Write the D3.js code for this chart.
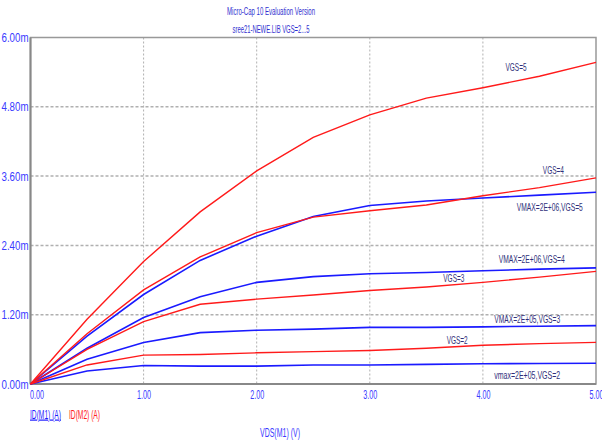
<!DOCTYPE html>
<html>
<head>
<meta charset="utf-8">
<script src="https://cdn.jsdelivr.net/npm/d3@7"></script>
<style>
  body { margin: 0; background: #fff; }
  text { font-family: "Liberation Sans Narrow", "Liberation Sans", Arial, sans-serif; }
</style>
</head>
<body>
<div id="chart"></div>
<script>
// sweep of VDS (V)
var vds = [0, 0.5, 1, 1.5, 2, 2.5, 3, 3.5, 4, 4.5, 5];

// ID(M2) red curves, mA
var red_vgs5 = [0, 1.12, 2.12, 2.98, 3.69, 4.27, 4.66, 4.95, 5.13, 5.33, 5.57];
var red_vgs4 = [0, 0.87, 1.63, 2.20, 2.62, 2.89, 3.00, 3.10, 3.26, 3.40, 3.57];
var red_vgs3 = [0, 0.60, 1.08, 1.38, 1.47, 1.54, 1.62, 1.68, 1.76, 1.85, 1.95];
var red_vgs2 = [0, 0.33, 0.50, 0.51, 0.54, 0.56, 0.58, 0.62, 0.67, 0.70, 0.72];

// ID(M1) blue curves, mA
var blue_vgs5 = [0, 0.83, 1.55, 2.14, 2.56, 2.90, 3.09, 3.17, 3.22, 3.27, 3.32];
var blue_vgs4 = [0, 0.62, 1.15, 1.51, 1.76, 1.86, 1.91, 1.93, 1.96, 1.99, 2.01];
var blue_vgs3 = [0, 0.43, 0.72, 0.89, 0.93, 0.95, 0.98, 0.98, 0.99, 1.00, 1.01];
var blue_vgs2 = [0, 0.225, 0.32, 0.31, 0.31, 0.33, 0.33, 0.34, 0.35, 0.355, 0.36];

var xTicks = [0, 1, 2, 3, 4, 5];
var yTicks = [0, 1.2, 2.4, 3.6, 4.8, 6.0];

var curveLabels = [
  {text: "VGS=5", x: 4.20, y: 5.42},
  {text: "VGS=4", x: 4.53, y: 3.63},
  {text: "VMAX=2E+06,VGS=5", x: 4.30, y: 3.00},
  {text: "VMAX=2E+06,VGS=4", x: 4.14, y: 2.10},
  {text: "VGS=3", x: 3.65, y: 1.76},
  {text: "VMAX=2E+05,VGS=3", x: 4.10, y: 1.06},
  {text: "VGS=2", x: 3.68, y: 0.70},
  {text: "vmax=2E+05,VGS=2", x: 4.10, y: 0.087}
];

var width = 602, height = 445;
var red = "#ff1a1a", blue = "#1a1aff", tickBlue = "#3a3aff", navy = "#30307a";

var svg = d3.select("#chart").append("svg")
    .attr("width", width)
    .attr("height", height);

var x = d3.scaleLinear().domain([0, 5]).range([30.5, 596]);
var y = d3.scaleLinear().domain([0, 6]).range([384, 37.5]);

// titles
svg.append("text").attr("x", 271).attr("y", 15).attr("text-anchor", "middle")
   .attr("font-size", 11.5).attr("fill", "#3030d0")
   .attr("textLength", 88).attr("lengthAdjust", "spacingAndGlyphs")
   .text("Micro-Cap 10 Evaluation Version");
svg.append("text").attr("x", 271).attr("y", 33).attr("text-anchor", "middle")
   .attr("font-size", 11.5).attr("fill", "#3030d0")
   .attr("textLength", 77).attr("lengthAdjust", "spacingAndGlyphs")
   .text("sree21-NEWE.LIB VGS=2...5");

// grid
svg.append("g").selectAll("line").data(xTicks.slice(1, 5)).enter().append("line")
   .attr("x1", function(d) {return x(d);}).attr("x2", function(d) {return x(d);})
   .attr("y1", y(6)).attr("y2", y(0))
   .attr("stroke", "#b0b0b0").attr("stroke-width", 1).attr("stroke-dasharray", "2,2");
svg.append("g").selectAll("line").data(yTicks.slice(1, 5)).enter().append("line")
   .attr("x1", x(0)).attr("x2", x(5))
   .attr("y1", function(d) {return y(d);}).attr("y2", function(d) {return y(d);})
   .attr("stroke", "#b0b0b0").attr("stroke-width", 1.5).attr("stroke-dasharray", "3,2");

// frame
svg.append("rect").attr("x", x(0)).attr("y", y(6))
   .attr("width", x(5) - x(0)).attr("height", y(0) - y(6))
   .attr("fill", "none").attr("stroke", "#999").attr("stroke-width", 1.5);
svg.append("line").attr("x1", x(0)).attr("x2", x(0)).attr("y1", y(6)).attr("y2", y(0))
   .attr("stroke", "#888").attr("stroke-width", 2);
svg.append("line").attr("x1", x(0)).attr("x2", x(5)).attr("y1", y(0)).attr("y2", y(0))
   .attr("stroke", "#888").attr("stroke-width", 2);

// axes (labels only)
var yAxis = d3.axisLeft(y).tickValues(yTicks).tickSize(0).tickPadding(2)
   .tickFormat(function(d) {return d3.format(".2f")(d) + "m";});
var gy = svg.append("g").attr("transform", "translate(" + x(0) + ",0)").call(yAxis);
gy.select(".domain").remove();
gy.selectAll("text").attr("fill", tickBlue).attr("font-size", 12.5)
   .attr("font-family", "'Liberation Sans Narrow', 'Liberation Sans', Arial, sans-serif")
   .attr("textLength", 27).attr("lengthAdjust", "spacingAndGlyphs");

var xAxis = d3.axisBottom(x).tickValues(xTicks).tickSize(0).tickPadding(6)
   .tickFormat(d3.format(".2f"));
var gx = svg.append("g").attr("transform", "translate(0," + y(0) + ")").call(xAxis);
gx.select(".domain").remove();
gx.selectAll("text").attr("fill", tickBlue).attr("font-size", 12.5)
   .attr("font-family", "'Liberation Sans Narrow', 'Liberation Sans', Arial, sans-serif")
   .attr("textLength", 14).attr("lengthAdjust", "spacingAndGlyphs")
   .attr("dx", function(d) {return d === 0 ? 6 : 0;});

// curves
var line = d3.line()
   .x(function(d, i) {return x(vds[i]);})
   .y(function(d) {return y(d);});

var reds = [red_vgs5, red_vgs4, red_vgs3, red_vgs2];
var blues = [blue_vgs5, blue_vgs4, blue_vgs3, blue_vgs2];

svg.append("g").selectAll("path").data(blues).enter().append("path")
   .attr("d", line).attr("fill", "none").attr("stroke", blue).attr("stroke-width", 1.6);
svg.append("g").selectAll("path").data(reds).enter().append("path")
   .attr("d", line).attr("fill", "none").attr("stroke", red).attr("stroke-width", 1.4);

// curve labels
svg.append("g").selectAll("text").data(curveLabels).enter().append("text")
   .attr("x", function(d) {return x(d.x);})
   .attr("y", function(d) {return y(d.y);})
   .attr("font-size", 11.5).attr("fill", navy)
   .attr("textLength", function(d) {return d.text.length > 6 ? 66 : 21;})
   .attr("lengthAdjust", "spacingAndGlyphs")
   .text(function(d) {return d.text;});

// legend
svg.append("text").attr("x", 30).attr("y", 418.5).attr("font-size", 12).attr("fill", blue)
   .attr("text-decoration", "underline")
   .attr("textLength", 31).attr("lengthAdjust", "spacingAndGlyphs")
   .text("ID(M1) (A)");
svg.append("text").attr("x", 69).attr("y", 418.5).attr("font-size", 12).attr("fill", red)
   .attr("textLength", 31).attr("lengthAdjust", "spacingAndGlyphs")
   .text("ID(M2) (A)");
svg.append("text").attr("x", 280).attr("y", 436.5).attr("text-anchor", "middle")
   .attr("font-size", 12).attr("fill", tickBlue)
   .attr("textLength", 40).attr("lengthAdjust", "spacingAndGlyphs")
   .text("VDS(M1) (V)");
</script>
</body>
</html>
